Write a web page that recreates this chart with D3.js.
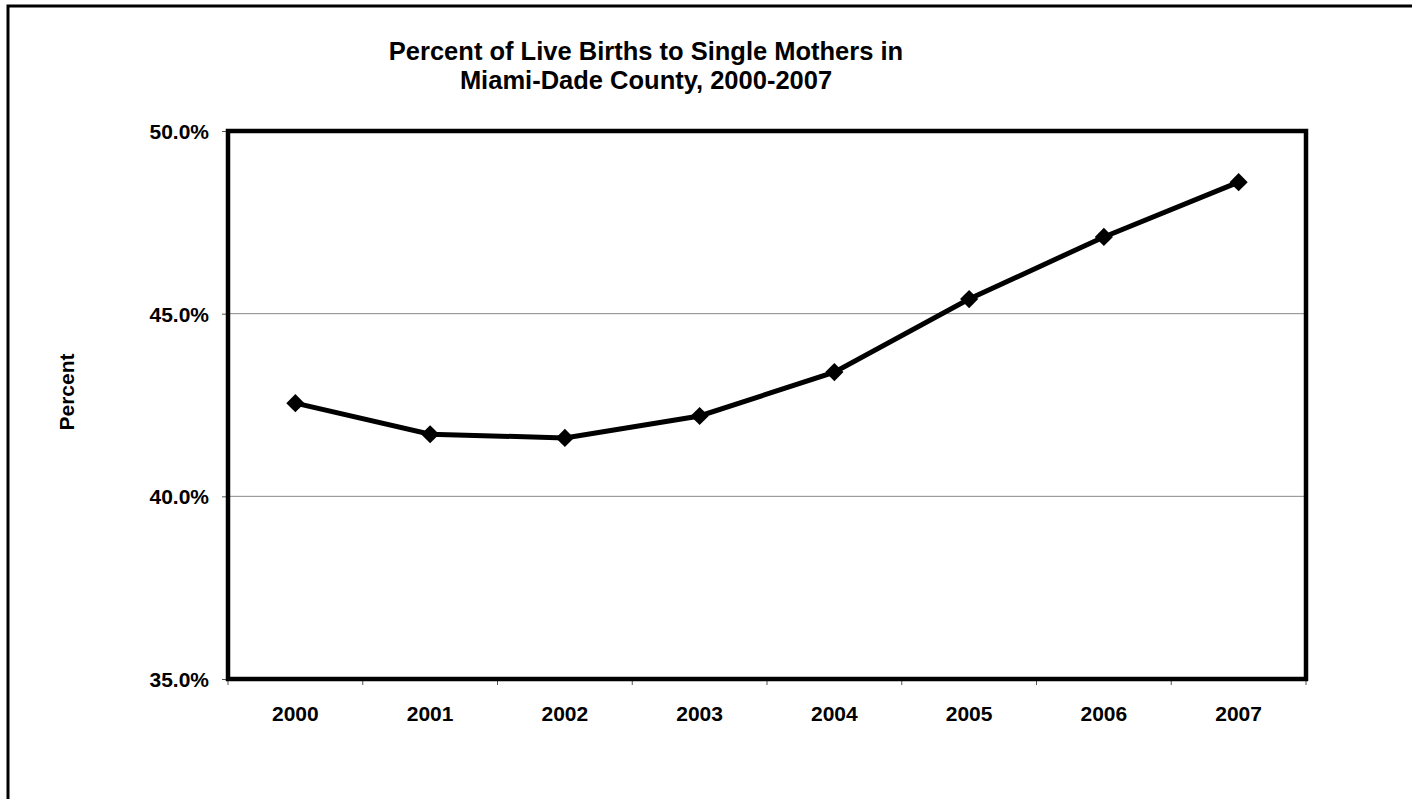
<!DOCTYPE html>
<html>
<head>
<meta charset="utf-8">
<script src="https://cdn.jsdelivr.net/npm/d3@7/dist/d3.min.js"></script>
<style>
  body { margin: 0; background: #fff; }
  svg text { font-family: "Liberation Sans", Arial, sans-serif; font-weight: bold; fill: #000; }
</style>
</head>
<body>
<div id="chart"></div>
<script>
const years = ["2000", "2001", "2002", "2003", "2004", "2005", "2006", "2007"];
const percent = [42.55, 41.7, 41.6, 42.2, 43.4, 45.4, 47.1, 48.6];
const yTicks = [35, 40, 45, 50];
const title = ["Percent of Live Births to Single Mothers in", "Miami-Dade County, 2000-2007"];

const width = 1412, height = 799;
const margin = { top: 131, right: 106, bottom: 120, left: 228 };
const w = width - margin.left - margin.right;
const h = height - margin.top - margin.bottom;

const svg = d3.select("#chart").append("svg")
  .attr("width", width)
  .attr("height", height);

// outer chart frame (runs off the right and bottom edge)
svg.append("rect")
  .attr("x", 8).attr("y", 6)
  .attr("width", 1420).attr("height", 820)
  .attr("fill", "none").attr("stroke", "#000").attr("stroke-width", 3);

svg.selectAll(".title")
  .data(title)
  .enter().append("text")
  .attr("class", "title")
  .attr("x", 646)
  .attr("y", (d, i) => 60 + i * 29)
  .attr("text-anchor", "middle")
  .attr("font-size", "25.5px")
  .text(d => d);

const g = svg.append("g")
  .attr("transform", "translate(" + margin.left + "," + margin.top + ")");

const x = d3.scaleBand().domain(years).range([0, w]);
const y = d3.scaleLinear().domain([35, 50]).range([h, 0]);

// gridlines
g.selectAll(".grid")
  .data(yTicks.slice(1, -1))
  .enter().append("line")
  .attr("x1", 0).attr("x2", w)
  .attr("y1", d => y(d)).attr("y2", d => y(d))
  .attr("stroke", "#888").attr("stroke-width", 1);

// y axis
const yAxis = g.append("g")
  .call(d3.axisLeft(y).tickValues(yTicks).tickSize(6).tickPadding(13)
    .tickFormat(d => d.toFixed(1) + "%"));
yAxis.select(".domain").remove();
yAxis.selectAll("line").attr("stroke", "#555");
yAxis.selectAll("text").attr("font-size", "21px").attr("dy", "0.35em");

// x axis, ticks between categories
const xAxis = g.append("g")
  .attr("transform", "translate(0," + h + ")")
  .call(d3.axisBottom(x).tickSize(0).tickPadding(0));
xAxis.select(".domain").remove();
xAxis.selectAll("text").attr("font-size", "21px").attr("dy", null).attr("y", 42);
g.selectAll(".xtick")
  .data(years.concat(["end"]))
  .enter().append("line")
  .attr("x1", (d, i) => i * x.step()).attr("x2", (d, i) => i * x.step())
  .attr("y1", h).attr("y2", h + 6)
  .attr("stroke", "#555");

// plot area frame
g.append("rect")
  .attr("x", 0).attr("y", 0).attr("width", w).attr("height", h)
  .attr("fill", "none").attr("stroke", "#000").attr("stroke-width", 4.5);

svg.append("text")
  .attr("transform", "translate(74,392) rotate(-90)")
  .attr("text-anchor", "middle")
  .attr("font-size", "21px")
  .text("Percent");

const line = d3.line()
  .x((d, i) => x(years[i]) + x.bandwidth() / 2)
  .y(d => y(d));

g.append("path")
  .datum(percent)
  .attr("d", line)
  .attr("fill", "none")
  .attr("stroke", "#000")
  .attr("stroke-width", 5);

g.selectAll(".marker")
  .data(percent)
  .enter().append("path")
  .attr("d", d3.symbol().type(d3.symbolSquare).size(165))
  .attr("transform", (d, i) => "translate(" + (x(years[i]) + x.bandwidth() / 2) + "," + y(d) + ") rotate(45)")
  .attr("fill", "#000");
</script>
</body>
</html>
